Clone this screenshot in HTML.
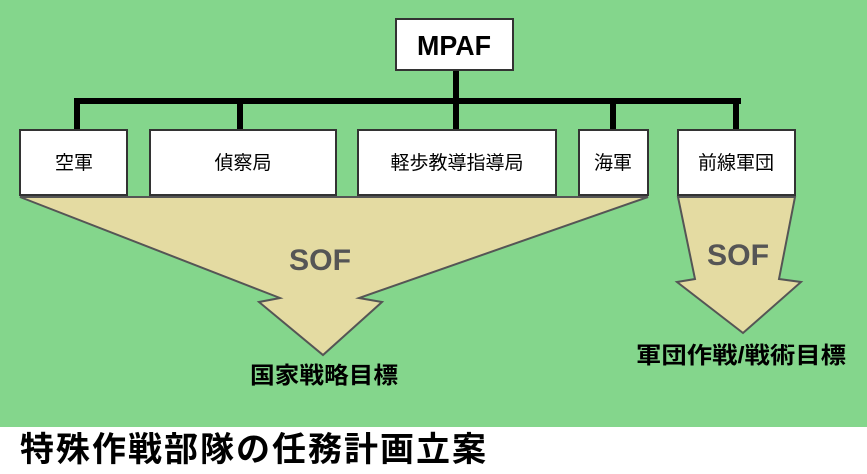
<!DOCTYPE html>
<html><head><meta charset="utf-8"><style>
html,body{margin:0;padding:0;}
body{width:867px;height:474px;overflow:hidden;background:#84D68C;position:relative;font-family:"Liberation Sans","Noto Sans CJK JP",sans-serif;}
svg{position:absolute;left:0;top:0;}
.strip{position:absolute;left:0;top:427px;width:867px;height:47px;background:#fff;}
.title{position:absolute;left:20px;top:430px;font-size:34px;font-weight:bold;letter-spacing:2px;line-height:40px;color:#000;font-family:"Liberation Sans","Noto Sans CJK JP",sans-serif;}
</style></head><body>
<svg width="867" height="474" viewBox="0 0 867 474">
<g fill="#000">
<rect x="453" y="70" width="6" height="34"/>
<rect x="74" y="98" width="667" height="6"/>
<rect x="74" y="98" width="6" height="33"/>
<rect x="237" y="98" width="6" height="33"/>
<rect x="453" y="98" width="6" height="33"/>
<rect x="610" y="98" width="6" height="33"/>
<rect x="733" y="98" width="6" height="33"/>
</g>
<polygon points="20,197 648,197 359,298 382,302 323,355 259,302 280,298" fill="#e4dba2" stroke="#555" stroke-width="2"/>
<polygon points="678,197 795,197 779,279 801,282 743,333 677,282 695,279" fill="#e4dba2" stroke="#555" stroke-width="2"/>
<text x="320" y="270" font-size="30" font-weight="bold" fill="#555" text-anchor="middle" font-family="Liberation Sans, sans-serif" textLength="62" lengthAdjust="spacingAndGlyphs">SOF</text>
<text x="738" y="265" font-size="30" font-weight="bold" fill="#555" text-anchor="middle" font-family="Liberation Sans, sans-serif" textLength="62" lengthAdjust="spacingAndGlyphs">SOF</text>
<g fill="#fff" stroke="#333" stroke-width="2">
<rect x="396" y="19" width="117" height="51"/>
<rect x="20" y="130" width="107" height="65"/>
<rect x="150" y="130" width="186" height="65"/>
<rect x="358" y="130" width="198" height="65"/>
<rect x="579" y="130" width="69" height="65"/>
<rect x="678" y="130" width="117" height="65"/>
</g>
<text x="454" y="55" font-size="28" font-weight="bold" text-anchor="middle" font-family="Liberation Sans, sans-serif" textLength="74" lengthAdjust="spacingAndGlyphs">MPAF</text>
<g font-size="19" text-anchor="middle" font-family="Liberation Sans, Noto Sans CJK JP, sans-serif">
<text x="74" y="169">空軍</text>
<text x="243" y="169">偵察局</text>
<text x="457" y="169">軽歩教導指導局</text>
<text x="613" y="169">海軍</text>
<text x="736" y="169">前線軍団</text>
</g>
<g font-size="23" font-weight="bold" text-anchor="middle" font-family="Liberation Sans, Noto Sans CJK JP, sans-serif">
<text x="324" y="383" textLength="148" lengthAdjust="spacingAndGlyphs">国家戦略目標</text>
<text x="741" y="363" textLength="210" lengthAdjust="spacingAndGlyphs">軍団作戦/戦術目標</text>
</g>
</svg>
<div class="strip"></div>
<div class="title">特殊作戦部隊の任務計画立案</div>
</body></html>
